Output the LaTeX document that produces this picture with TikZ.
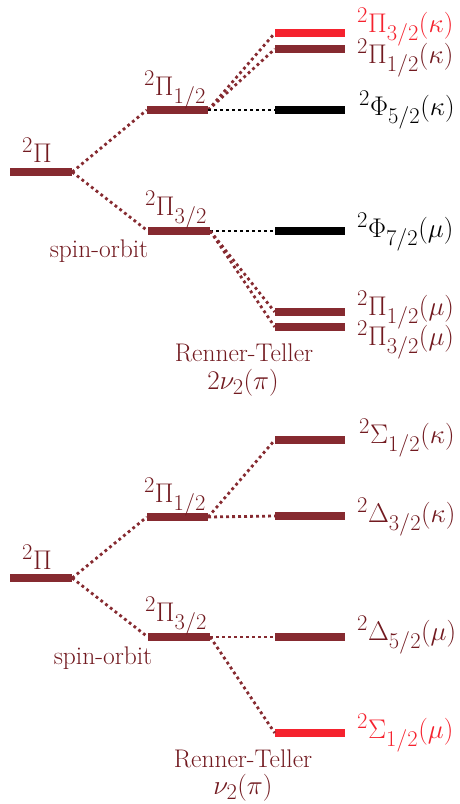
\documentclass[tikz,border=0pt]{standalone}
\usepackage{amsmath}
\definecolor{dred}{HTML}{862A30}
\definecolor{tred}{HTML}{721A20}
\definecolor{bred}{HTML}{F5222E}
\tikzset{
  lvl/.style={rectangle, fill=dred, inner sep=0pt, minimum height=8pt, minimum width=62pt},
  rlvl/.style={lvl, minimum width=70pt},
  conn/.style={dred, line width=2.8pt, dash pattern=on 2.8pt off 3.2pt},
  bconn/.style={conn, black},
  lab/.style={text=tred, inner sep=0pt, font=\fontsize{24.88}{30}\selectfont, scale=1.085},
  tlab/.style={text=tred, inner sep=0pt, font=\fontsize{25.5}{30}\selectfont},
  rlab/.style={lab, anchor=west},
}
\begin{document}
\begin{tikzpicture}[x=1pt, y=-1pt]
\useasboundingbox (0,0) rectangle (459,804);
% ---------- top diagram ----------
\node[lvl] (tA) at (41,172) {};
\node[lvl, minimum width=61pt] (tB) at (177.5,110) {};
\node[lvl] (tC) at (179,231) {};
\node[rlvl, fill=bred] (tR1) at (310,33) {};
\node[rlvl] (tR2) at (310,49) {};
\node[rlvl, fill=black] (tR3) at (310,110) {};
\node[rlvl, fill=black] (tR4) at (310,231) {};
\node[rlvl] (tR5) at (310,312) {};
\node[rlvl] (tR6) at (310,327) {};
\draw[conn] (tA.east) -- (tB.west);
\draw[conn] (tA.east) -- (tC.west);
\draw[conn] (tB.east) -- (tR1.west);
\draw[conn] (tB.east) -- (tR2.west);
\draw[bconn] (tB.east) -- (tR3.west);
\draw[bconn] (tC.east) -- (tR4.west);
\draw[conn] (tC.east) -- (tR5.west);
\draw[conn] (tC.east) -- (tR6.west);
\node[lab] (tlA) at (37,150) {$^2\Pi$};
\node[lab] (tlB) at (175,90) {$^2\Pi_{1/2}$};
\node[lab] (tlC) at (176,210) {$^2\Pi_{3/2}$};
\node[tlab] (tso) at (99,251) {spin-orbit};
\node[rlab, text=bred] (tl1) at (357,27) {$^2\Pi_{3/2}(\kappa)$};
\node[rlab] (tl2) at (357,58) {$^2\Pi_{1/2}(\kappa)$};
\node[rlab, text=black] (tl3) at (359,110) {$^2\Phi_{5/2}(\kappa)$};
\node[rlab, text=black] (tl4) at (357,232) {$^2\Phi_{7/2}(\mu)$};
\node[rlab] (tl5) at (357,310) {$^2\Pi_{1/2}(\mu)$};
\node[rlab] (tl6) at (357,340) {$^2\Pi_{3/2}(\mu)$};
\node[tlab] (trt) at (244,353) {Renner-Teller};
\node[lab] (tnu) at (243,383) {$2\nu_2(\pi)$};
% ---------- bottom diagram ----------
\node[lvl] (bA) at (41,578) {};
\node[lvl, minimum width=61pt] (bB) at (177.5,517) {};
\node[lvl] (bC) at (179,637) {};
\node[rlvl] (bR1) at (310,440) {};
\node[rlvl] (bR2) at (310,516) {};
\node[rlvl] (bR3) at (310,637) {};
\node[rlvl, fill=bred] (bR4) at (310,733) {};
\draw[conn] (bA.east) -- (bB.west);
\draw[conn] (bA.east) -- (bC.west);
\draw[conn] (bB.east) -- (bR1.west);
\draw[conn] (bB.east) -- (bR2.west);
\draw[conn] (bC.east) -- (bR3.west);
\draw[conn] (bC.east) -- (bR4.west);
\node[lab] (blA) at (37,557) {$^2\Pi$};
\node[lab] (blB) at (175,497) {$^2\Pi_{1/2}$};
\node[lab] (blC) at (176,616) {$^2\Pi_{3/2}$};
\node[tlab] (bso) at (103,658) {spin-orbit};
\node[rlab] (bl1) at (359,438) {$^2\Sigma_{1/2}(\kappa)$};
\node[rlab] (bl2) at (357,517) {$^2\Delta_{3/2}(\kappa)$};
\node[rlab] (bl3) at (357,635) {$^2\Delta_{5/2}(\mu)$};
\node[rlab, text=bred] (bl4) at (357,733) {$^2\Sigma_{1/2}(\mu)$};
\node[tlab] (brt) at (243,759) {Renner-Teller};
\node[lab] (bnu) at (243,788) {$\nu_2(\pi)$};
\end{tikzpicture}
\end{document}
